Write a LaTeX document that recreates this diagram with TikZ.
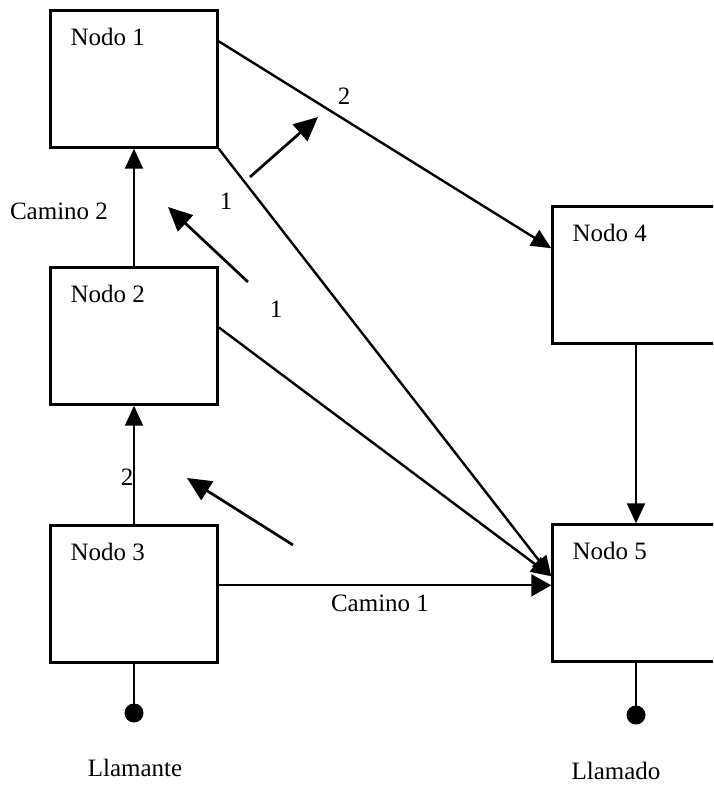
\documentclass[tikz,border=0pt]{standalone}
\usepackage{fontspec}
\setmainfont{Liberation Serif}
\usetikzlibrary{arrows.meta}

\tikzset{
  nodebox/.style={draw, line width=2.4pt, minimum width=167pt, minimum height=137pt, inner sep=0pt},
  boxtitle/.style={anchor=base west, inner sep=0pt, font=\fontsize{25}{30}\selectfont},
  lbl/.style={anchor=base, inner sep=0pt, font=\fontsize{25}{30}\selectfont},
  link/.style={line width=2.4pt, -{Triangle[length=20pt,width=18pt]}},
  thinlink/.style={line width=1.9pt, -{Triangle[length=20pt,width=18pt]}},
  flow/.style={line width=2.7pt, -{Triangle[length=24pt,width=22pt]}},
  terminal/.style={circle, fill, inner sep=0pt, minimum size=19pt},
}

\begin{document}
\begin{tikzpicture}[x=1pt, y=-1pt]
  \useasboundingbox (0,0) rectangle (713,786);
  \clip (0,0) rectangle (713,786);

  % switching nodes
  \node[nodebox] (n1) at (134,79) {};
  \node[nodebox] (n2) at (134,336) {};
  \node[nodebox] (n3) at (134,594) {};
  \node[nodebox] (n4) at (636,275) {};
  \node[nodebox] (n5) at (636,593) {};

  \node[boxtitle] (t1) at ([shift={(21pt,-36pt)}]n1.north west) {Nodo 1};
  \node[boxtitle] (t2) at ([shift={(21pt,-36pt)}]n2.north west) {Nodo 2};
  \node[boxtitle] (t3) at ([shift={(21pt,-36pt)}]n3.north west) {Nodo 3};
  \node[boxtitle] (t4) at ([shift={(21pt,-36pt)}]n4.north west) {Nodo 4};
  \node[boxtitle] (t5) at ([shift={(21pt,-36pt)}]n5.north west) {Nodo 5};

  % subscriber terminals
  \node[terminal] (d3) at (134,713) {};
  \node[terminal] (d5) at (636,715) {};
  \draw[line width=2pt] (n3.south) -- (d3.center);
  \draw[line width=2pt] (n5.south) -- (d5.center);
  \node[lbl] (caller) at (135,776) {Llamante};
  \node[lbl] (called) at (616,779) {Llamado};

  % trunk connections
  \draw[thinlink] (n3.north) -- (n2.south);
  \draw[thinlink] (n2.north) -- (n1.south);
  \draw[link] ([yshift=-32pt]n1.north east) -- ([yshift=-43pt]n4.north west);
  \draw[link] (n1.south east) -- ([yshift=-53pt]n5.north west);
  \draw[link] ([yshift=-61pt]n2.north east) -- ([yshift=-53pt]n5.north west);
  \draw[line width=2pt, -{Triangle[length=20pt,width=22pt]}] ([yshift=-61pt]n3.north east) -- ([yshift=-62pt]n5.north west);
  \draw[line width=2pt, -{Triangle[length=20pt,width=18pt]}] (n4.south) -- (n5.north);

  % route labels
  \node[lbl] (cam2) at (59,220) {Camino 2};
  \node[lbl] (cam1) at (380,611) {Camino 1};
  \node[lbl] (k2a) at (344,105) {2};
  \node[lbl] (k1a) at (226,210) {1};
  \node[lbl] (k1b) at (276,317) {1};
  \node[lbl] (k2b) at (127,485) {2};

  % search direction arrows
  \coordinate (fa0) at (250,177);
  \coordinate (fa1) at (318,117);
  \coordinate (fb0) at (248,282);
  \coordinate (fb1) at (168,207);
  \coordinate (fc0) at (293,545);
  \coordinate (fc1) at (187,478);
  \draw[flow] (fa0) -- (fa1);
  \draw[flow] (fb0) -- (fb1);
  \draw[flow] (fc0) -- (fc1);
\end{tikzpicture}
\end{document}
